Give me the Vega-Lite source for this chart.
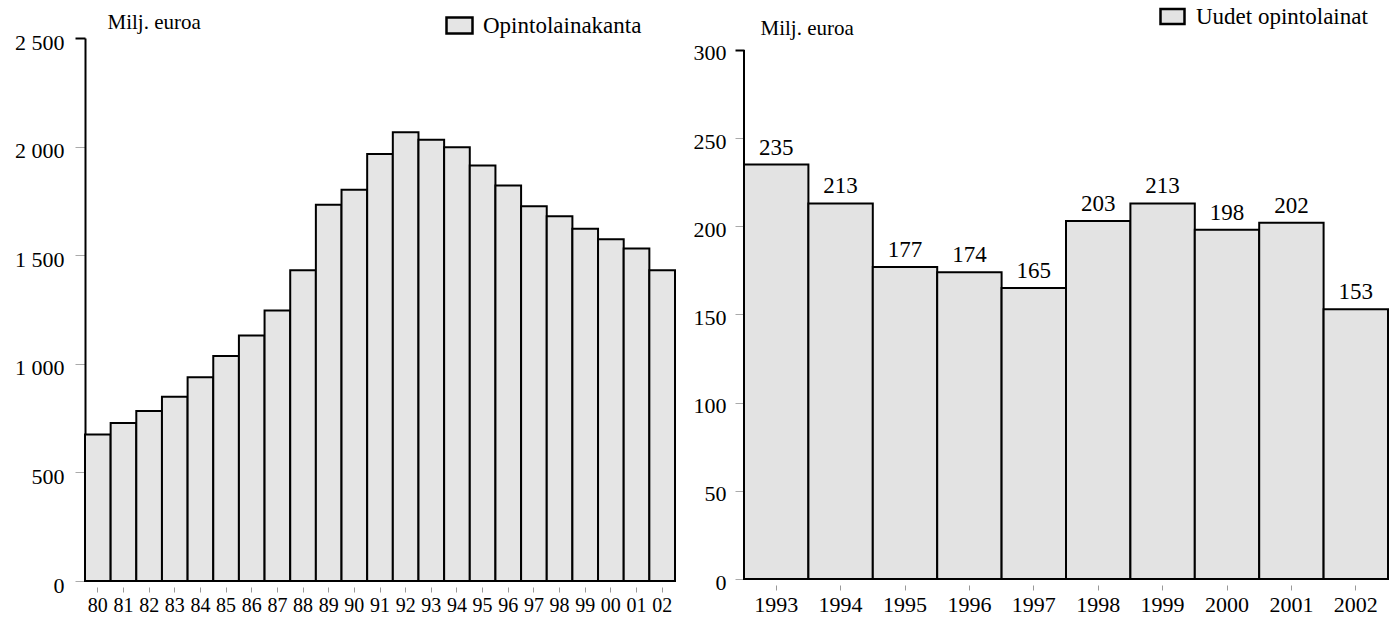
{
  "$schema": "https://vega.github.io/schema/vega-lite/v6.json",
  "padding": {"left": 0, "top": 3, "right": 0, "bottom": 0},
  "autosize": {"type": "pad"},
  "background": "white",
  "spacing": 17,
  "config": {
    "font": "Liberation Serif",
    "view": {"stroke": null},
    "axis": {
      "labelFont": "Liberation Serif",
      "titleFont": "Liberation Serif",
      "labelColor": "black",
      "titleColor": "black",
      "grid": false,
      "domainColor": "black",
      "domainWidth": 2
    },
    "legend": {
      "labelFont": "Liberation Serif",
      "labelColor": "black",
      "labelLimit": 400
    }
  },
  "resolve": {"scale": {"color": "independent"}, "legend": {"color": "independent"}},
  "hconcat": [
    {
      "width": 590,
      "height": 543,
      "data": {
        "values": [
          {"vuosi": "80", "arvo": 674},
          {"vuosi": "81", "arvo": 728},
          {"vuosi": "82", "arvo": 783},
          {"vuosi": "83", "arvo": 848},
          {"vuosi": "84", "arvo": 938},
          {"vuosi": "85", "arvo": 1036},
          {"vuosi": "86", "arvo": 1130},
          {"vuosi": "87", "arvo": 1245},
          {"vuosi": "88", "arvo": 1431},
          {"vuosi": "89", "arvo": 1732},
          {"vuosi": "90", "arvo": 1801},
          {"vuosi": "91", "arvo": 1966},
          {"vuosi": "92", "arvo": 2066},
          {"vuosi": "93", "arvo": 2031},
          {"vuosi": "94", "arvo": 1997},
          {"vuosi": "95", "arvo": 1913},
          {"vuosi": "96", "arvo": 1821},
          {"vuosi": "97", "arvo": 1725},
          {"vuosi": "98", "arvo": 1679},
          {"vuosi": "99", "arvo": 1622},
          {"vuosi": "00", "arvo": 1573},
          {"vuosi": "01", "arvo": 1531},
          {"vuosi": "02", "arvo": 1431}
        ]
      },
      "mark": {"type": "bar", "stroke": "black", "strokeWidth": 2},
      "encoding": {
        "x": {
          "field": "vuosi",
          "type": "ordinal",
          "sort": null,
          "scale": {"paddingInner": 0, "paddingOuter": 0},
          "axis": {
            "title": null,
            "labelAngle": 0,
            "domain": false,
            "offset": 6,
            "tickSize": 5,
            "tickColor": "#999999",
            "labelPadding": 3,
            "labelFontSize": 20
          }
        },
        "y": {
          "field": "arvo",
          "type": "quantitative",
          "scale": {"domain": [0, 2500], "nice": false},
          "axis": {
            "values": [0, 500, 1000, 1500, 2000, 2500],
            "labelExpr": "replace(format(datum.value, ','), ',', ' ')",
            "labelFontSize": 22,
            "labelPadding": 11,
            "labelOffset": 4,
            "tickSize": 10,
            "tickColor": {"condition": {"test": "datum.value === 2500", "value": "black"}, "value": "#aaaaaa"},
            "tickWidth": {"condition": {"test": "datum.value === 2500", "value": 2}, "value": 1},
            "minExtent": 85,
            "maxExtent": 85,
            "title": "Milj. euroa",
            "titleAngle": 0,
            "titleAlign": "left",
            "titleBaseline": "middle",
            "titleX": 22,
            "titleY": -16,
            "titleFontSize": 21,
            "titleFontWeight": "normal"
          }
        },
        "color": {
          "datum": "Opintolainakanta",
          "scale": {"range": ["#e5e5e5"]},
          "legend": {
            "title": null,
            "orient": "none",
            "legendX": 360,
            "legendY": -27,
            "padding": 0,
            "symbolType": "M-1,-0.62H1V0.62H-1Z",
            "symbolSize": 676,
            "symbolStrokeColor": "black",
            "symbolStrokeWidth": 2.5,
            "symbolFillColor": "#e5e5e5",
            "labelFontSize": 23,
            "labelOffset": 9
          }
        }
      }
    },
    {
      "width": 644,
      "height": 541,
      "data": {
        "values": [
          {"vuosi": "1993", "arvo": 235},
          {"vuosi": "1994", "arvo": 213},
          {"vuosi": "1995", "arvo": 177},
          {"vuosi": "1996", "arvo": 174},
          {"vuosi": "1997", "arvo": 165},
          {"vuosi": "1998", "arvo": 203},
          {"vuosi": "1999", "arvo": 213},
          {"vuosi": "2000", "arvo": 198},
          {"vuosi": "2001", "arvo": 202},
          {"vuosi": "2002", "arvo": 153}
        ]
      },
      "encoding": {
        "x": {
          "field": "vuosi",
          "type": "ordinal",
          "sort": null,
          "scale": {"paddingInner": 0, "paddingOuter": 0},
          "axis": {
            "title": null,
            "labelAngle": 0,
            "domain": false,
            "offset": 6,
            "tickSize": 5,
            "tickColor": "#999999",
            "labelPadding": 4,
            "labelFontSize": 22
          }
        },
        "y": {
          "field": "arvo",
          "type": "quantitative",
          "scale": {"domain": [0, 306.8], "nice": false},
          "axis": {
            "values": [0, 50, 100, 150, 200, 250, 300],
            "domain": false,
            "labelFontSize": 22,
            "labelPadding": 9,
            "labelOffset": 3,
            "tickSize": 9,
            "tickColor": {"condition": {"test": "datum.value === 300", "value": "black"}, "value": "#aaaaaa"},
            "tickWidth": {"condition": {"test": "datum.value === 300", "value": 2}, "value": 1},
            "minExtent": 50,
            "maxExtent": 50,
            "title": "Milj. euroa",
            "titleAngle": 0,
            "titleAlign": "left",
            "titleBaseline": "middle",
            "titleX": 16,
            "titleY": -10,
            "titleFontSize": 21,
            "titleFontWeight": "normal"
          }
        }
      },
      "layer": [
        {
          "mark": {"type": "bar", "stroke": "black", "strokeWidth": 2},
          "encoding": {
            "color": {
              "datum": "Uudet opintolainat",
              "scale": {"range": ["#e3e3e3"]},
              "legend": {
                "title": null,
                "orient": "none",
                "legendX": 415,
                "legendY": -35,
                "padding": 0,
                "symbolType": "M-1,-0.62H1V0.62H-1Z",
                "symbolSize": 576,
                "symbolStrokeColor": "black",
                "symbolStrokeWidth": 2.5,
                "symbolFillColor": "#e3e3e3",
                "labelFontSize": 23,
                "labelOffset": 10
              }
            }
          }
        },
        {
          "mark": {"type": "text", "baseline": "bottom", "dy": -5, "fontSize": 23, "color": "black"},
          "encoding": {
            "text": {"field": "arvo", "type": "quantitative"}
          }
        },
        {
          "mark": {"type": "rule", "color": "black", "strokeWidth": 2},
          "encoding": {
            "x": {"datum": "1993", "bandPosition": 0},
            "y": {"datum": 0},
            "y2": {"datum": 300}
          }
        }
      ]
    }
  ]
}
